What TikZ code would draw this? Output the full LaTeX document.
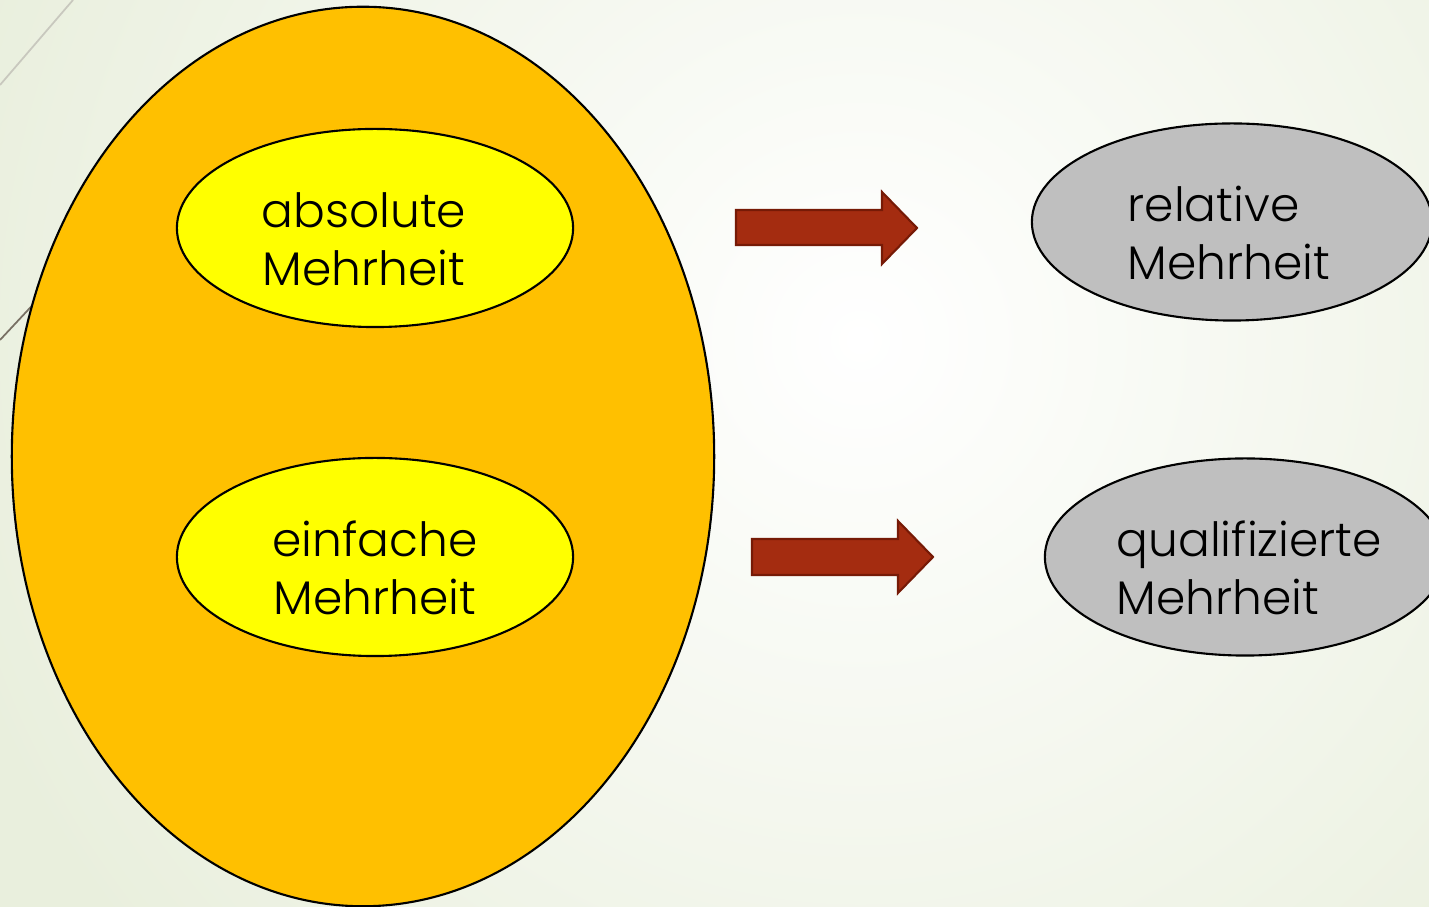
\documentclass[tikz,border=0pt]{standalone}
\usepackage{fontspec}
\usepackage{xcolor}
\setmainfont{Poppins}[UprightFont=* Light]
\usetikzlibrary{shapes.geometric}

\definecolor{bggreen}{RGB}{233,239,221}
\definecolor{outerorange}{RGB}{255,192,0}
\definecolor{inneryellow}{RGB}{255,255,0}
\definecolor{innergray}{RGB}{191,191,191}
\definecolor{arrowred}{RGB}{164,44,16}
\definecolor{arrowedge}{RGB}{118,26,6}

\tikzset{
    bigset/.style={ellipse, draw=black, line width=0.6pt, fill=outerorange,
        minimum width=7.02cm, minimum height=8.99cm, inner sep=0pt},
    subset/.style={ellipse, draw=black, line width=0.6pt, fill=inneryellow,
        minimum width=3.96cm, minimum height=1.98cm, inner sep=0pt},
    otherset/.style={ellipse, draw=black, line width=0.6pt, fill=innergray,
        minimum width=4.0cm, minimum height=1.97cm, inner sep=0pt},
    settext/.style={inner sep=0pt, font=\fontsize{13.4}{16.5}\selectfont},
    blockarrow/.style={fill=arrowred, draw=arrowedge, line width=0.6pt, line join=miter}
}

\begin{document}
\begin{tikzpicture}[x=0.01cm, y=-0.01cm]
                \useasboundingbox (0,0) rectangle (1429,907);
                \begin{scope}
                    \clip (0,0) rectangle (1429,907);
                    \fill[bggreen] (0,0) rectangle (1429,907);
                    \shade[inner color=white, outer color=bggreen] (860,340) circle (950);
                \end{scope}
                \draw[color={rgb,255:red,200;green,200;blue,190}, line width=0.5pt] (0,85) -- (73,0);
                \draw[color={rgb,255:red,120;green,112;blue,100}, line width=0.5pt] (0,340) -- (70,265);

                \node[bigset] (mehrheiten) at (363,456.5) {};
                \node[subset] (absolut) at (375,228) {};
                \node[subset] (einfach) at (375,557) {};
                \node[otherset] (relativ) at (1232,222) {};
                \node[otherset] (qualifiziert) at (1245,557) {};

                \node[settext, align=center] (absolut-text) at (364,239) {absolute\\Mehrheit};
                \node[settext, align=center] (einfach-text) at (375,568) {einfache\\Mehrheit};
                \node[settext, align=left, anchor=west] (relativ-text) at (1127,233) {relative\\Mehrheit};
                \node[settext, align=left, anchor=west] (qualifiziert-text) at (1116,568) {qualifizierte\\Mehrheit};

                \draw[blockarrow] (736,210) -- (882,210) -- (882,192) -- (917,228) --
                    (882,264) -- (882,245) -- (736,245) -- cycle;
                \draw[blockarrow] (752,539) -- (898,539) -- (898,521) -- (933,557) --
                    (898,593) -- (898,575) -- (752,575) -- cycle;
            \end{tikzpicture}
\end{document}
